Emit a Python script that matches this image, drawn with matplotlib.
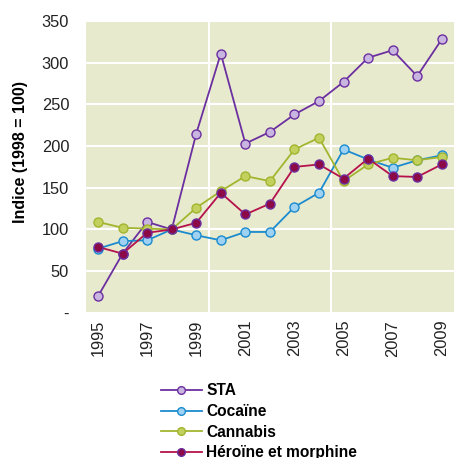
import matplotlib
matplotlib.use('Agg')
import matplotlib.pyplot as plt
from matplotlib.ticker import FixedLocator, FuncFormatter

plt.rcParams['font.family'] = ['Liberation Sans', 'DejaVu Sans']

years = list(range(1995, 2010))
sta = [20, 71, 109, 100, 215, 311, 203, 217, 238, 254, 277, 306, 315, 284, 328]
cocaine = [77, 86, 87, 100, 93, 87, 97, 97, 127, 144, 196, 184, 174, 183, 189]
cannabis = [109, 102, 101, 100, 126, 146, 164, 158, 196, 210, 158, 178, 186, 183, 187]
heroine = [79, 71, 96, 100, 108, 144, 118, 131, 175, 178, 161, 185, 164, 163, 178]

# (label, values, line colour, marker face, marker edge)
series = [
    ('STA', sta, '#6b2fa0', '#c9b6e0', '#6b2fa0'),
    ('Cocaïne', cocaine, '#1b8bcf', '#9fd2f2', '#1b8bcf'),
    ('Cannabis', cannabis, '#a3b52e', '#c2d05e', '#a3b52e'),
    ('Héroïne et morphine', heroine, '#b5124c', '#8c0a45', '#6b2fa0'),
]

fig = plt.figure(figsize=(4.54, 4.58), dpi=100)
ax = fig.add_axes([0.189, 0.317, 0.811, 0.637])
ax.set_facecolor('#e8eace')

x = list(range(len(years)))
for label, vals, lc, fc, ec in series:
    ax.plot(x, vals, color=lc, lw=1.3, marker='o', ms=6.5,
            markerfacecolor=fc, markeredgecolor=ec, markeredgewidth=1.0,
            label=label, zorder=3)

ax.set_xlim(-0.5, len(years) - 0.5)
ax.set_ylim(0, 350)
ax.set_yticks(range(0, 351, 50))
ax.yaxis.set_major_formatter(FuncFormatter(lambda v, p: '-' if v == 0 else '%d' % v))
ax.set_xticks(x[::2])
ax.set_xticklabels([str(y) for y in years[::2]], rotation=90)
ax.xaxis.set_minor_locator(FixedLocator([4.5, 9.5]))
ax.grid(axis='y', color='white', lw=1.5)
ax.grid(axis='x', which='minor', color='white', lw=1.5)
ax.set_axisbelow(True)
ax.tick_params(length=0, which='both', labelsize=11.8, colors='#222222')
ax.tick_params(axis='y', pad=12)
ax.tick_params(axis='x', pad=5)
for s in ax.spines.values():
    s.set_visible(False)

ax.set_ylabel('Indice (1998 = 100)', fontsize=11.5, fontweight='bold', labelpad=10, y=0.55)

fig.legend(loc='upper left', bbox_to_anchor=(0.355, 0.163), frameon=False,
           prop={'weight': 'bold', 'size': 11.2}, handlelength=2.6,
           handletextpad=0.3, labelspacing=0.36, borderpad=0, borderaxespad=0,
           markerscale=0.85)

fig.savefig('out.png', dpi=100)
